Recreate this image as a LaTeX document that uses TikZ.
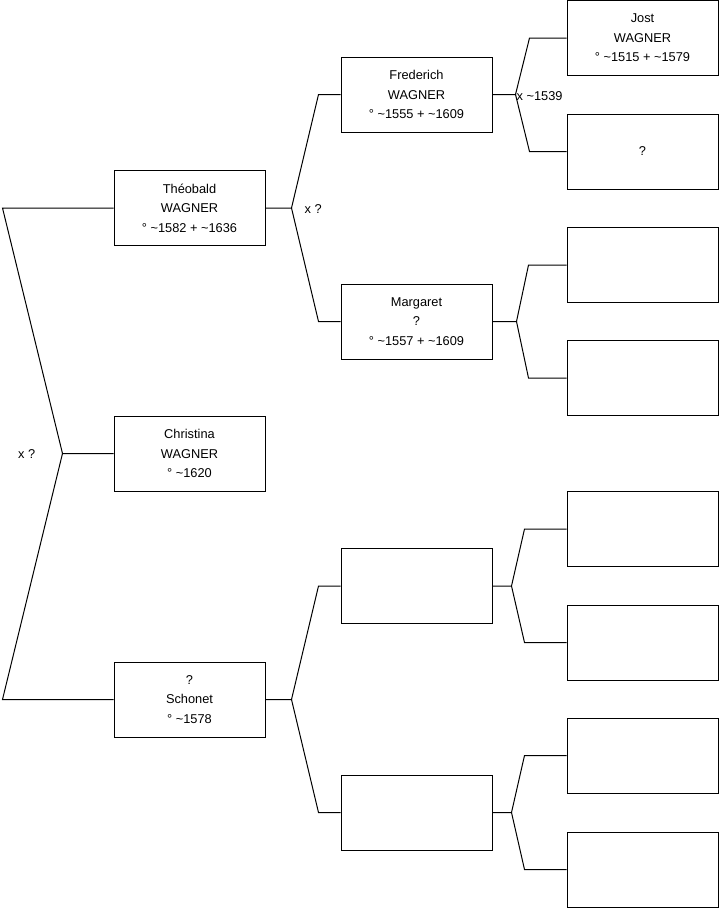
\documentclass[tikz,border=0pt]{standalone}
\usepackage{fontspec}
\setmainfont{Liberation Sans}
\usepackage{tikz}
\usetikzlibrary{positioning}

\begin{document}
\begin{tikzpicture}[
      x=1pt, y=-1pt,
      person/.style={rectangle, draw, line width=1pt, minimum width=151pt, minimum height=75pt, inner sep=0pt, align=center, font=\fontsize{12.8}{19.5}\selectfont},
      link/.style={line width=1pt},
      union/.style={inner sep=0pt, font=\fontsize{12.8}{15}\selectfont}
    ]
    \useasboundingbox (0,0) rectangle (719,908);

    % Generation 1
    \node[person] (christina) at (189.5,453.5) {Christina\\WAGNER\\° \textasciitilde1620};

    % Generation 2
    \node[person] (theobald) at (189.5,208) {Théobald\\WAGNER\\° \textasciitilde1582 + \textasciitilde1636};
    \node[person] (schonet) at (189.5,699.5) {?\\Schonet\\° \textasciitilde1578};

    % Generation 3
    \node[person] (frederich) at (416.5,94.5) {Frederich\\WAGNER\\° \textasciitilde1555 + \textasciitilde1609};
    \node[person] (margaret) at (416.5,321.5) {Margaret\\?\\° \textasciitilde1557 + \textasciitilde1609};
    \node[person] (schfather) at (416.5,586) {};
    \node[person] (schmother) at (416.5,812.5) {};

    % Generation 4
    \node[person] (jost) at (642.5,38) {Jost\\WAGNER\\° \textasciitilde1515 + \textasciitilde1579};
    \node[person] (jostwife) at (642.5,151.5) {?};
    \node[person] (margfather) at (642.5,265) {};
    \node[person] (margmother) at (642.5,378) {};
    \node[person] (sfgfather) at (642.5,529) {};
    \node[person] (sfgmother) at (642.5,642.5) {};
    \node[person] (smgfather) at (642.5,755.5) {};
    \node[person] (smgmother) at (642.5,869.5) {};

    % Brackets to the parents
    \draw[link] (christina.west) -- ++(-51,0) coordinate (xchristina) -- ([xshift=-111pt]theobald.west) -- (theobald.west);
    \draw[link] (xchristina) -- ([xshift=-111pt]schonet.west) -- (schonet.west);

    \draw[link] (theobald.east) -- ++(26,0) coordinate (xtheobald) -- ([xshift=-22pt]frederich.west) -- (frederich.west);
    \draw[link] (xtheobald) -- ([xshift=-22pt]margaret.west) -- (margaret.west);

    \draw[link] (schonet.east) -- ++(26,0) coordinate (xschonet) -- ([xshift=-22pt]schfather.west) -- (schfather.west);
    \draw[link] (xschonet) -- ([xshift=-22pt]schmother.west) -- (schmother.west);

    \draw[link] (frederich.east) -- ++(23,0) coordinate (xfrederich) -- ([xshift=-37pt]jost.west) -- (jost.west);
    \draw[link] (xfrederich) -- ([xshift=-37pt]jostwife.west) -- (jostwife.west);

    \draw[link] (margaret.east) -- ++(24,0) coordinate (xmargaret) -- ([xshift=-38pt]margfather.west) -- (margfather.west);
    \draw[link] (xmargaret) -- ([xshift=-38pt]margmother.west) -- (margmother.west);

    \draw[link] (schfather.east) -- ++(19,0) coordinate (xschfather) -- ([xshift=-42pt]sfgfather.west) -- (sfgfather.west);
    \draw[link] (xschfather) -- ([xshift=-42pt]sfgmother.west) -- (sfgmother.west);

    \draw[link] (schmother.east) -- ++(19,0) coordinate (xschmother) -- ([xshift=-42pt]smgfather.west) -- (smgfather.west);
    \draw[link] (xschmother) -- ([xshift=-42pt]smgmother.west) -- (smgmother.west);

    % Marriage labels
    \node[union, left=27pt of xchristina, yshift=-1pt] {x ?};
    \node[union, right=13pt of xtheobald, yshift=-1pt] {x ?};
    \node[union, right=1pt of xfrederich, yshift=-2pt] {x \textasciitilde1539};
\end{tikzpicture}
\end{document}
